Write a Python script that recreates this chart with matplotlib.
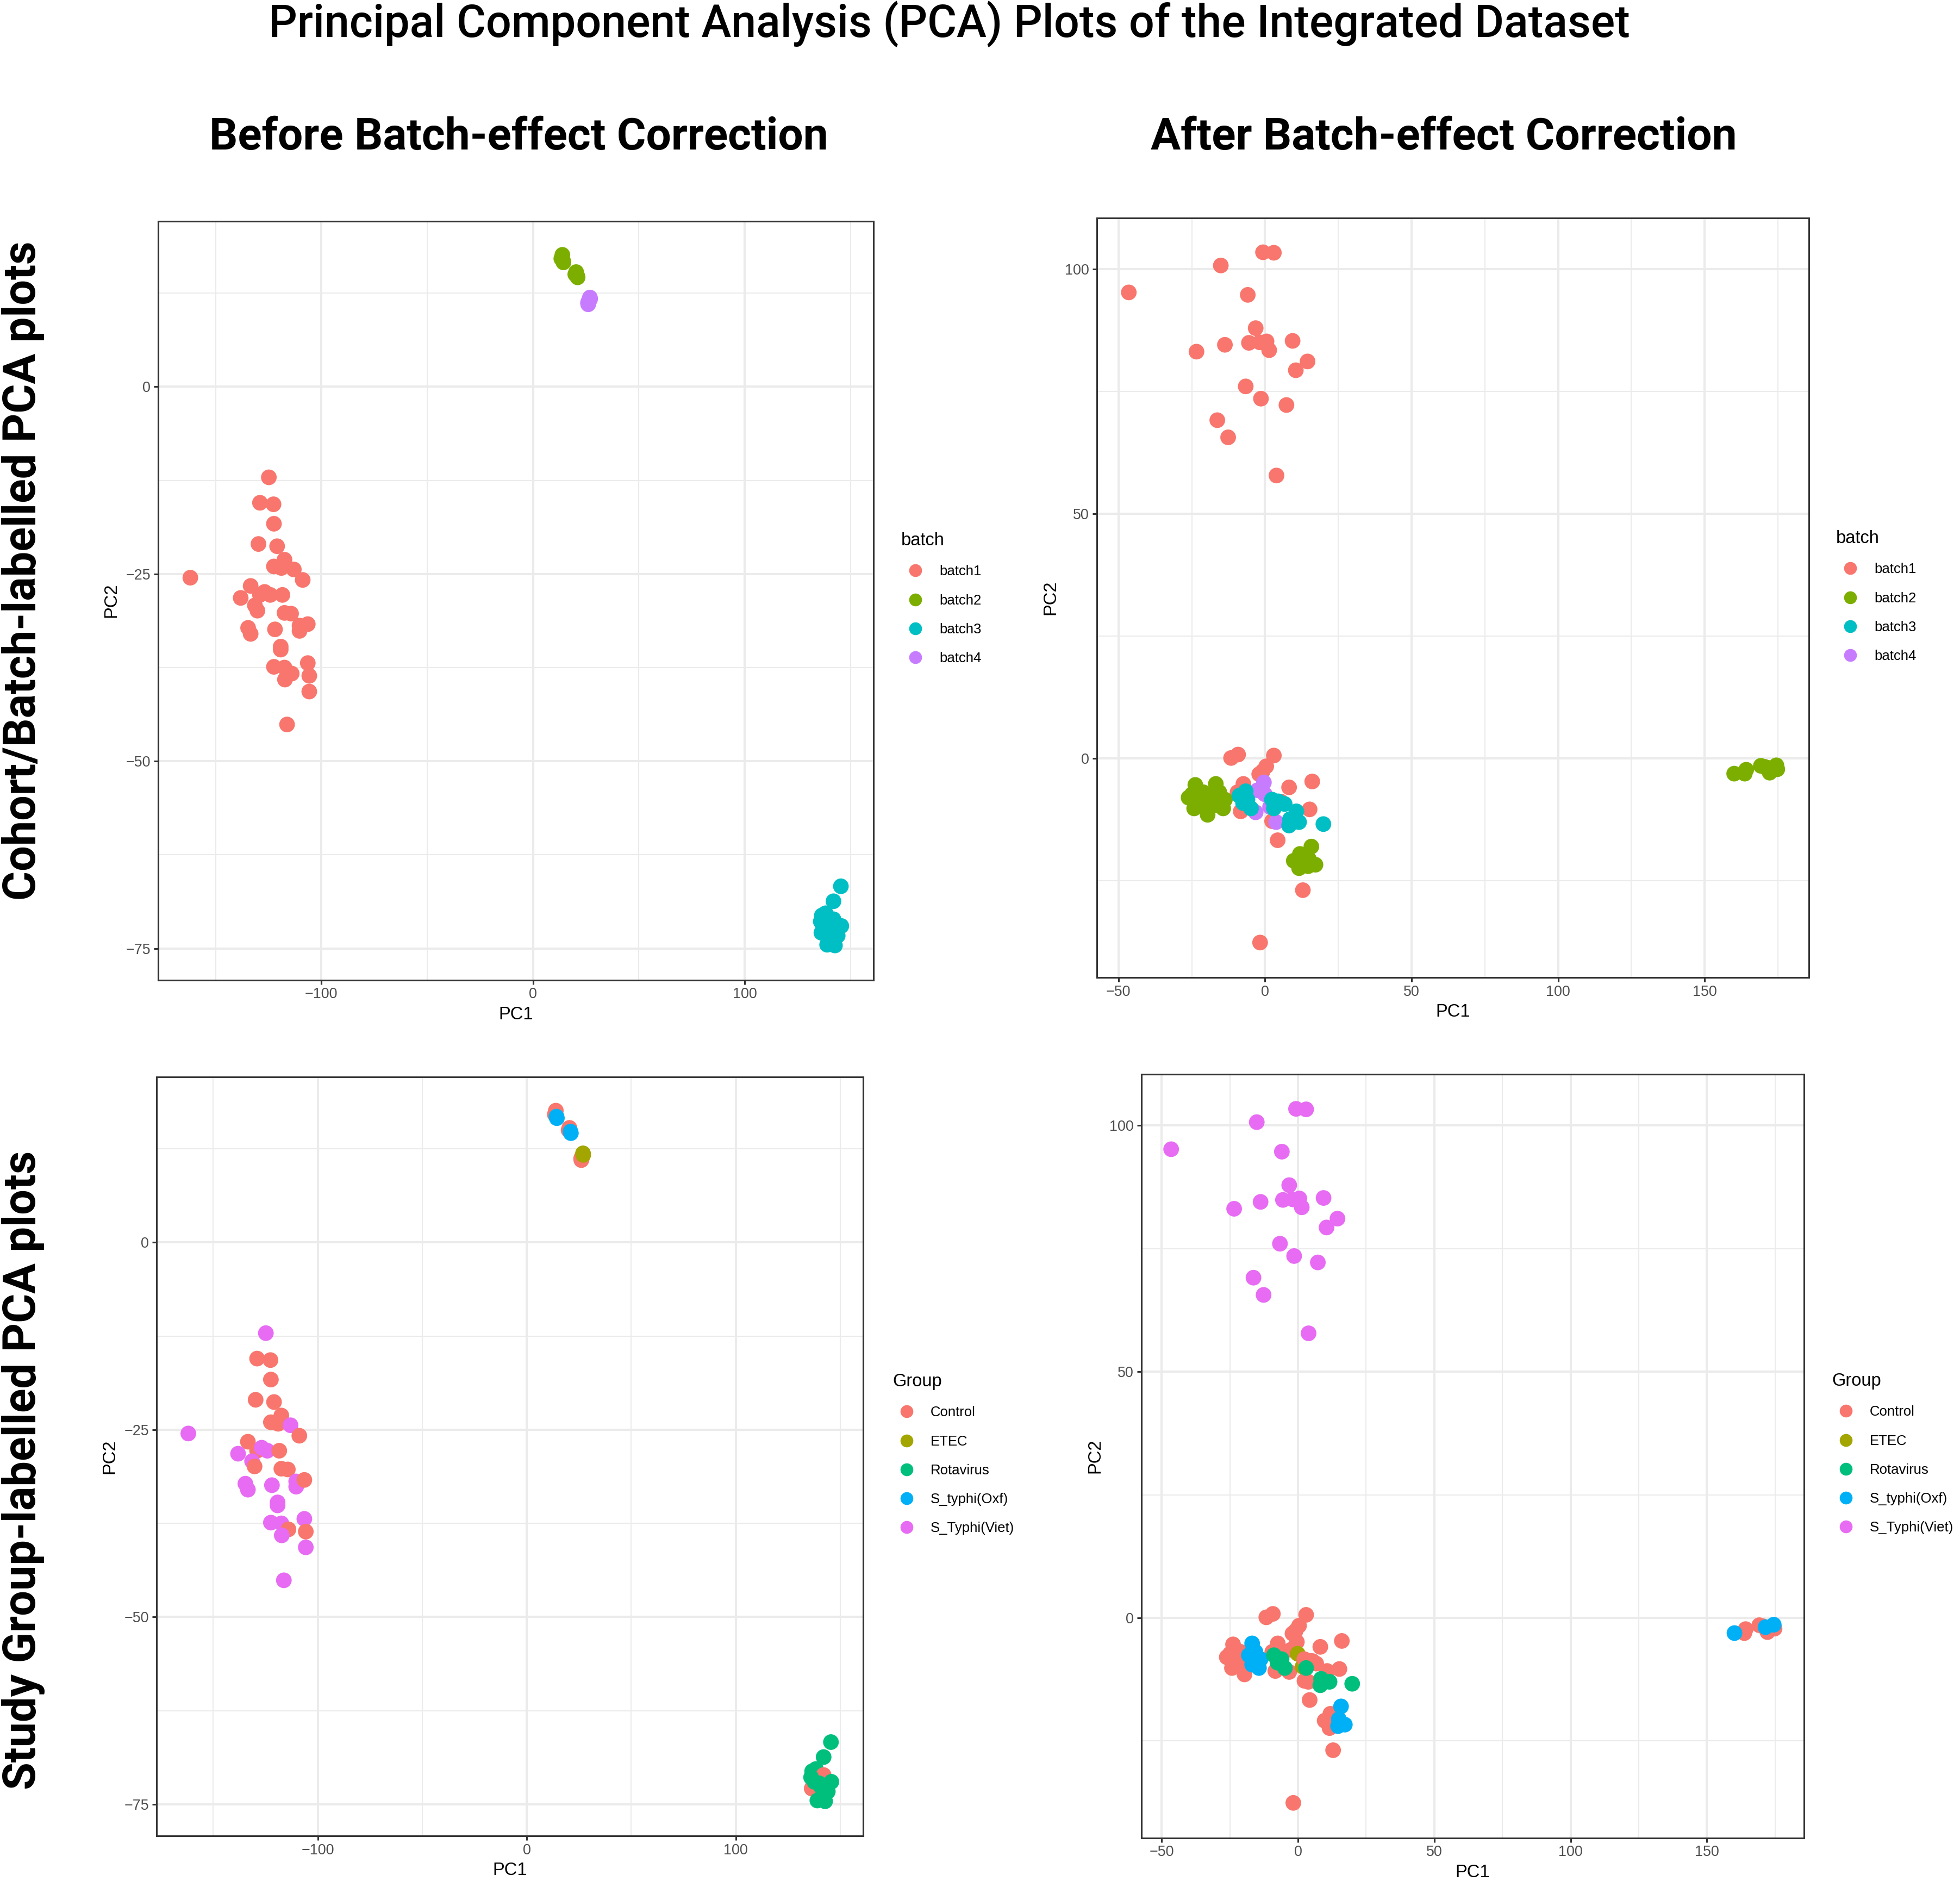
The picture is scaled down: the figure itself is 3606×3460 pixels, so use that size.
import matplotlib
matplotlib.use("Agg")
import matplotlib.pyplot as plt
from matplotlib.lines import Line2D

# ---- data ----
batch_levels = ["batch1", "batch2", "batch3", "batch4"]
batch_colors = ["#F8766D", "#7CAE00", "#00BFC4", "#C77CFF"]
group_levels = ["Control", "ETEC", "Rotavirus", "S_typhi(Oxf)", "S_Typhi(Viet)"]
group_colors = ["#F8766D", "#A3A500", "#00BF7D", "#00B0F6", "#E76BF3"]

# before correction: batch1, batch2, batch4, batch3
before_pc1 = [-124.8, -129.0, -122.6, -122.4, -129.7, -120.9, -117.4, -122.4, -118.9, -113.0,
              -108.8, -161.9, -133.4, -138.1, -129.0, -126.8, -124.1, -118.4, -131.4, -130.2,
              -117.4, -114.3, -134.6, -133.4, -121.9, -110.3, -110.3, -106.4, -119.2, -119.2,
              -122.4, -117.4, -114.0, -117.2, -106.4, -105.7, -105.7, -116.2,
              13.9, 13.4, 20.4, 20.0, 14.2, 14.4, 20.9, 21.1,
              26.0, 26.3, 26.1, 26.4, 26.9, 27.0,
              145.5, 142.0, 138.3, 136.5, 142.0, 137.1, 136.3, 136.0, 137.6, 145.7,
              144.0, 139.0, 142.7, 139.8, 141.0]
before_pc2 = [-12.1, -15.5, -15.7, -18.3, -21.0, -21.3, -23.1, -24.0, -24.2, -24.4,
              -25.8, -25.5, -26.6, -28.2, -27.8, -27.4, -27.8, -27.8, -29.2, -29.9,
              -30.2, -30.3, -32.2, -33.0, -32.4, -31.9, -32.6, -31.7, -34.7, -35.1,
              -37.4, -37.5, -38.3, -39.1, -36.9, -38.6, -40.7, -45.1,
              17.6, 17.1, 15.3, 15.0, 16.8, 16.6, 14.8, 14.6,
              11.2, 11.4, 11.0, 11.3, 11.9, 11.7,
              -66.7, -68.7, -70.3, -70.6, -71.1, -72.3, -72.9, -71.4, -72.0, -72.0,
              -73.3, -74.5, -74.6, -72.2, -72.8]
before_batch = (["batch1"] * 38 + ["batch2"] * 8 + ["batch4"] * 6 + ["batch3"] * 15)
before_group = (["S_Typhi(Viet)", "Control", "Control", "Control", "Control", "Control",
                 "Control", "Control", "Control", "S_Typhi(Viet)", "Control", "S_Typhi(Viet)",
                 "Control", "S_Typhi(Viet)", "Control", "S_Typhi(Viet)", "S_Typhi(Viet)",
                 "Control", "S_Typhi(Viet)", "Control", "Control", "Control",
                 "S_Typhi(Viet)", "S_Typhi(Viet)", "S_Typhi(Viet)", "S_Typhi(Viet)",
                 "S_Typhi(Viet)", "Control", "S_Typhi(Viet)", "S_Typhi(Viet)",
                 "S_Typhi(Viet)", "S_Typhi(Viet)", "Control", "S_Typhi(Viet)",
                 "S_Typhi(Viet)", "Control", "S_Typhi(Viet)", "S_Typhi(Viet)"]
                + ["Control"] * 4 + ["S_typhi(Oxf)"] * 4
                + ["Control"] * 4 + ["ETEC"] * 2
                + ["Rotavirus"] * 4 + ["Control"] * 3 + ["Rotavirus"] * 8)

# after correction: batch1, batch2, batch4, batch3
after_pc1 = [-0.7, 3.0, -15.1, -46.5, -5.9, -3.2, -23.4, -13.7, -5.5, -1.8, 0.5, 1.4, 9.4,
             14.5, 10.5, -6.6, -1.4, 7.3, -16.3, -12.6, 3.9,
             -11.6, -9.2, 3.0, 0.4, -2.0, -0.8, -7.4, 8.2, 16.1, 15.2, -8.3, 2.4, 4.3,
             12.9, -1.7, 5.4, -9.4,
             -23.8, -26.1, -24.2, -19.6, -21.1, -22.4, -19.9, -24.9, -19.3,
             -16.8, -14.3, -13.7, -18.0, -16.8, -15.6, -15.0,
             9.8, 11.6, 13.5, 11.9, 15.8, 17.2, 14.7, 15.0,
             164.2, 163.7, 169.2, 170.4, 172.2, 174.8, 160.1, 171.5, 174.5,
             -0.4, -2.6, -3.2, 3.8, -0.1, 1.7,
             -6.6, 2.35, 6.7, 4.5, 10.7, -8.8, -7.5, -4.8, -6.0, 3.0, 8.5, 11.6, 8.2, 19.9]
after_pc2 = [103.4, 103.3, 100.7, 95.2, 94.7, 87.9, 83.1, 84.5, 84.9, 85.0, 85.2, 83.4, 85.3,
             81.1, 79.3, 76.0, 73.5, 72.2, 69.1, 65.6, 57.8,
             0.1, 0.8, 0.6, -1.6, -3.2, -2.6, -5.2, -5.9, -4.7, -10.4, -10.8, -12.8, -16.7,
             -26.9, -37.6, -8.8, -6.9,
             -5.4, -8.0, -10.2, -11.5, -6.9, -9.1, -8.7, -7.3, -10.2,
             -5.2, -10.2, -8.4, -7.6, -9.5, -6.9, -9.1,
             -20.9, -22.4, -20.2, -19.5, -18.0, -21.7, -22.0, -20.6,
             -2.3, -3.1, -1.5, -1.7, -2.9, -2.2, -3.1, -1.9, -1.4,
             -4.9, -6.5, -11.0, -13.0, -7.3, -9.9,
             -6.7, -8.4, -9.3, -8.75, -10.8, -7.6, -9.1, -10.2, -8.4, -10.2, -12.4, -13.0,
             -13.7, -13.4]
after_batch = (["batch1"] * 38 + ["batch2"] * 33 + ["batch4"] * 6 + ["batch3"] * 14)
after_group = (["S_Typhi(Viet)"] * 21 + ["Control"] * 17
               + ["Control"] * 9 + ["S_typhi(Oxf)"] * 7
               + ["Control"] * 4 + ["S_typhi(Oxf)"] * 4
               + ["Control"] * 6 + ["S_typhi(Oxf)"] * 3
               + ["Control"] * 4 + ["ETEC"] * 2
               + ["Control"] * 5 + ["Rotavirus"] * 9)

W, H = 3606, 3460
fig = plt.figure(figsize=(W / 100, H / 100), dpi=100)

head_font = ["Roboto", "DejaVu Sans"]
body_font = ["Liberation Sans", "DejaVu Sans"]


def draw_panel(rect, pc1, pc2, labels, levels, colors, title, xlim, ylim,
               xmajor, xminor, ymajor, yminor, leg_xy):
    ax = fig.add_axes(rect)
    cmap = dict(zip(levels, colors))
    ax.scatter(pc1, pc2, c=[cmap[l] for l in labels], s=430, linewidths=0, zorder=3)
    ax.set_xlim(xlim)
    ax.set_ylim(ylim)
    ax.set_xticks(xmajor)
    ax.set_xticks(xminor, minor=True)
    ax.set_yticks(ymajor)
    ax.set_yticks(yminor, minor=True)
    ax.grid(which="major", color="#EBEBEB", linewidth=2.9, zorder=0)
    ax.grid(which="minor", color="#EBEBEB", linewidth=1.5, zorder=0)
    ax.set_axisbelow(True)
    for sp in ax.spines.values():
        sp.set_color("#333333")
        sp.set_linewidth(2.2)
    ax.tick_params(which="major", length=6, width=2.2, color="#333333",
                   labelsize=19.4, labelcolor="#4D4D4D", pad=4)
    ax.tick_params(which="minor", length=0)
    for t in ax.get_xticklabels() + ax.get_yticklabels():
        t.set_family(body_font)
    ax.set_xlabel("PC1", fontsize=23.5, family=body_font, labelpad=6)
    ax.set_ylabel("PC2", fontsize=23.5, family=body_font, labelpad=8)

    handles = [Line2D([], [], marker="o", linestyle="none", markersize=17,
                      markerfacecolor=c, markeredgewidth=0) for c in colors]
    ax.legend(handles, levels, title=title, loc="upper left",
              bbox_to_anchor=leg_xy, bbox_transform=fig.transFigure,
              frameon=False, borderpad=0, borderaxespad=0,
              handlelength=2.0, handletextpad=0.72,
              labelspacing=1.14, alignment="left",
              prop={"family": body_font, "size": 18.5},
              title_fontproperties={"family": body_font, "size": 23.5})
    return ax


left_x = dict(xlim=(-177.1, 160.9), ylim=(-79.2, 22.1),
              xmajor=[-100, 0, 100], xminor=[-150, -50, 50, 150],
              ymajor=[-75, -50, -25, 0], yminor=[-62.5, -37.5, -12.5, 12.5])
right_x = dict(xlim=(-57.4, 185.5), ylim=(-44.7, 110.4),
               xmajor=[-50, 0, 50, 100, 150], xminor=[-25, 25, 75, 125, 175],
               ymajor=[0, 50, 100], yminor=[-25, 25, 75])

draw_panel([291 / W, 1 - 1802.5 / H, 1316 / W, 1395.7 / H],
           before_pc1, before_pc2, before_batch, batch_levels, batch_colors, "batch",
           leg_xy=(1658 / W, 1 - 979 / H), **left_x)
draw_panel([2018 / W, 1 - 1797.7 / H, 1309.5 / W, 1396.7 / H],
           after_pc1, after_pc2, after_batch, batch_levels, batch_colors, "batch",
           leg_xy=(3378 / W, 1 - 975 / H), **right_x)
draw_panel([288 / W, 1 - 3376.7 / H, 1300 / W, 1395.7 / H],
           before_pc1, before_pc2, before_group, group_levels, group_colors, "Group",
           leg_xy=(1642 / W, 1 - 2526 / H), **left_x)
draw_panel([2100 / W, 1 - 3380.6 / H, 1218.5 / W, 1404.3 / H],
           after_pc1, after_pc2, after_group, group_levels, group_colors, "Group",
           leg_xy=(3370 / W, 1 - 2525 / H), **right_x)

fig.text(1746 / W, 1 - 44 / H, "Principal Component Analysis (PCA) Plots of the Integrated Dataset",
         ha="center", va="center", fontsize=59.5, fontweight="medium",
         family=["Roboto", "DejaVu Sans"])
fig.text(954 / W, 1 - 253 / H, "Before Batch-effect Correction", ha="center", va="center",
         fontsize=59, fontweight="bold", family=head_font)
fig.text(2656 / W, 1 - 253 / H, "After Batch-effect Correction", ha="center", va="center",
         fontsize=59, fontweight="bold", family=head_font)
fig.text(43 / W, 1 - 1050 / H, "Cohort/Batch-labelled PCA plots", ha="center", va="center",
         rotation=90, fontsize=59.5, fontweight="bold", family=head_font)
fig.text(43 / W, 1 - 2704 / H, "Study Group-labelled PCA plots", ha="center", va="center",
         rotation=90, fontsize=59.5, fontweight="bold", family=head_font)

fig.savefig("out.png", dpi=100, facecolor="white")
